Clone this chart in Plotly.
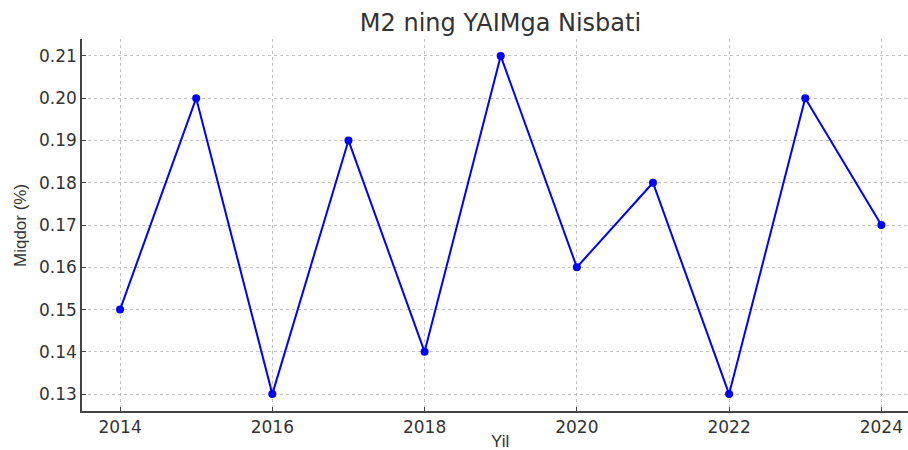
import plotly.graph_objects as go

years = [2014, 2015, 2016, 2017, 2018, 2019, 2020, 2021, 2022, 2023, 2024]
values = [0.15, 0.20, 0.13, 0.19, 0.14, 0.21, 0.16, 0.18, 0.13, 0.20, 0.17]
x_ticks = [2014, 2016, 2018, 2020, 2022, 2024]
y_ticks = [0.13, 0.14, 0.15, 0.16, 0.17, 0.18, 0.19, 0.20, 0.21]

FONT = "DejaVu Sans"
LABEL_FONT = "Liberation Sans"
TXT = "#333333"

fig = go.Figure()
fig.add_trace(go.Scatter(
    x=years, y=values, mode="lines+markers",
    line=dict(color="#0000ff", width=2),
    marker=dict(color="#0000ff", size=8),
    showlegend=False,
))

fig.update_layout(
    width=908, height=450,
    margin=dict(l=82, r=0, t=39, b=39, autoexpand=False),
    paper_bgcolor="white", plot_bgcolor="white",
    font=dict(family=FONT, color=TXT, size=17),
    title=dict(text="M2 ning YAIMga Nisbati", x=(82 + 919) / 2 / 908, xanchor="center",
               y=1 - 23 / 450, yanchor="middle", yref="container",
               font=dict(family=FONT, size=24, color=TXT)),
    annotations=[
        dict(text="Yil", xref="paper", yref="paper", x=(500 - 82) / 826, y=-(441 - 411) / 372,
             xanchor="center", yanchor="middle", showarrow=False,
             font=dict(family=LABEL_FONT, size=17, color=TXT)),
        dict(text="Miqdor (%)", xref="paper", yref="paper", x=-(82 - 20) / 826, y=0.5,
             xanchor="center", yanchor="middle", showarrow=False, textangle=-90,
             font=dict(family=LABEL_FONT, size=17, color=TXT)),
    ],
)
fig.update_xaxes(
    range=[2013.5, 2024.35], tickvals=x_ticks, ticktext=[str(v) for v in x_ticks],
    ticks="inside", ticklen=4, tickcolor="#444", showline=True, linecolor="#444", linewidth=1.5,
    showgrid=True, gridcolor="#c4c4c4", griddash="dot", gridwidth=1, zeroline=False,
    automargin=False, tickfont=dict(size=17),
)
fig.update_yaxes(
    range=[0.126, 0.214], tickvals=y_ticks, ticktext=[f"{v:.2f}" for v in y_ticks],
    ticks="inside", ticklen=4, tickcolor="#444", showline=True, linecolor="#444", linewidth=1.5,
    showgrid=True, gridcolor="#c4c4c4", griddash="dot", gridwidth=1, zeroline=False,
    automargin=False, tickfont=dict(size=17),
)
fig.write_html("out.html", config={"displayModeBar": False},
               post_script="document.body.style.margin='0';document.body.style.overflow='hidden';")
